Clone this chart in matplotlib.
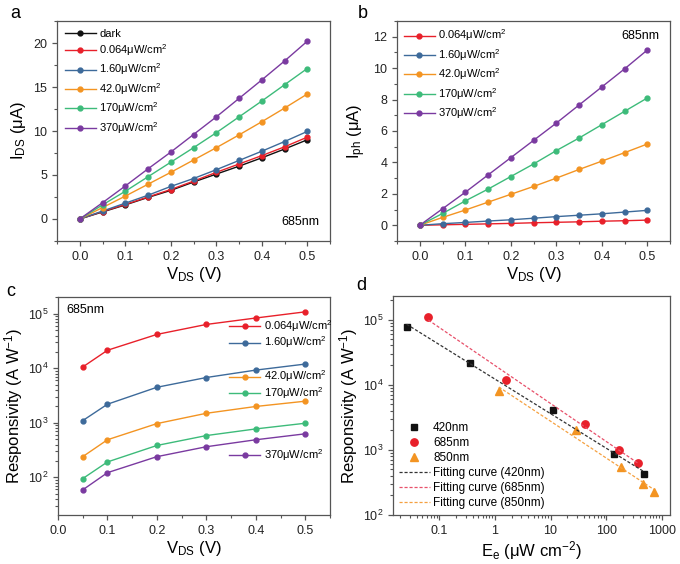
import numpy as np
import matplotlib
matplotlib.use("Agg")
import matplotlib.pyplot as plt
from matplotlib.legend import Legend
from matplotlib.ticker import MultipleLocator, LogLocator, NullFormatter, FixedLocator, FixedFormatter

plt.rcParams['font.family'] = ['Liberation Sans', 'DejaVu Sans']
plt.rcParams['mathtext.fontset'] = 'custom'
plt.rcParams['mathtext.rm'] = 'Liberation Sans'
plt.rcParams['mathtext.it'] = 'Liberation Sans'
plt.rcParams['mathtext.bf'] = 'Liberation Sans:bold'

# ---------------- data ----------------
vds = [0.0, 0.05, 0.10, 0.15, 0.20, 0.25, 0.30, 0.35, 0.40, 0.45, 0.50]
labels_a = ["dark", "0.064μW/cm$^2$", "1.60μW/cm$^2$", "42.0μW/cm$^2$",
            "170μW/cm$^2$", "370μW/cm$^2$"]
ids_dark = [0, 0.80, 1.60, 2.45, 3.25, 4.20, 5.10, 6.00, 6.95, 7.95, 9.00]
ids_0064 = [0, 0.85, 1.65, 2.50, 3.35, 4.30, 5.30, 6.25, 7.20, 8.20, 9.30]
ids_160 = [0, 0.90, 1.80, 2.70, 3.70, 4.60, 5.60, 6.65, 7.70, 8.80, 9.95]
ids_420 = [0, 1.30, 2.60, 3.95, 5.30, 6.70, 8.10, 9.55, 11.05, 12.60, 14.20]
ids_170 = [0, 1.60, 3.15, 4.80, 6.45, 8.10, 9.80, 11.60, 13.40, 15.25, 17.10]
ids_370 = [0, 1.85, 3.75, 5.70, 7.60, 9.60, 11.60, 13.70, 15.80, 17.95, 20.20]

labels_b = labels_a[1:]
iph_0064 = [0, 0.03, 0.06, 0.09, 0.12, 0.16, 0.19, 0.22, 0.26, 0.29, 0.33]
iph_160 = [0, 0.10, 0.18, 0.27, 0.35, 0.45, 0.55, 0.64, 0.73, 0.84, 0.95]
iph_420 = [0, 0.50, 0.97, 1.47, 1.97, 2.47, 3.00, 3.55, 4.08, 4.62, 5.17]
iph_170 = [0, 0.75, 1.55, 2.30, 3.10, 3.90, 4.75, 5.55, 6.40, 7.25, 8.10]
iph_370 = [0, 1.05, 2.10, 3.20, 4.30, 5.40, 6.50, 7.65, 8.80, 9.95, 11.15]

vds_c = [0.05, 0.1, 0.2, 0.3, 0.4, 0.5]
r_0064 = [1.06e4, 2.15e4, 4.2e4, 6.4e4, 8.4e4, 1.09e5]
r_160 = [1.1e3, 2.2e3, 4.5e3, 6.8e3, 9.3e3, 1.2e4]
r_420 = [240, 490, 970, 1500, 2000, 2500]
r_170 = [95, 192, 385, 585, 775, 985]
r_370 = [59, 122, 240, 365, 490, 630]

ee_420 = [0.026, 0.36, 10.9, 140, 476]
resp_420 = [7.8e4, 2.15e4, 4.1e3, 870, 420]
ee_685 = [0.064, 1.60, 42.0, 170, 370]
resp_685 = [1.1e5, 1.2e4, 2.5e3, 980, 630]
ee_850 = [1.18, 29.0, 187, 452, 724]
resp_850 = [8.0e3, 2.0e3, 540, 295, 225]

# ---------------- style ----------------
C_BLACK = "#111111"
C_RED = "#e8202a"
C_BLUE = "#3d6a9a"
C_ORANGE = "#f39422"
C_GREEN = "#3dbb7a"
C_PURPLE = "#7a3aa0"
SPINE = "#555555"

TICK_FS = 9
LAB_FS = 12
LEG_FS = 8

fig = plt.figure(figsize=(6.8, 5.64), dpi=100)

def style_axes(ax):
    for s in ax.spines.values():
        s.set_color(SPINE)
        s.set_linewidth(0.9)
    ax.tick_params(which='both', direction='out', colors=SPINE, labelcolor='#222222',
                   labelsize=TICK_FS, top=False, right=False)
    ax.tick_params(which='major', length=3.5, width=0.9)
    ax.tick_params(which='minor', length=2, width=0.8)

ax_a = fig.add_axes([57/680, 1-241/564, 273/680, 220/564])
ax_b = fig.add_axes([397/680, 1-241/564, 273/680, 220/564])
ax_c = fig.add_axes([58/680, 1-515/564, 272/680, 218/564])
ax_d = fig.add_axes([393/680, 1-515/564, 277/680, 219/564])

# ---- panel a ----
series_a = [ids_dark, ids_0064, ids_160, ids_420, ids_170, ids_370]
cols_a = [C_BLACK, C_RED, C_BLUE, C_ORANGE, C_GREEN, C_PURPLE]
for y, c, l in zip(series_a, cols_a, labels_a):
    ax_a.plot(vds, y, '-o', color=c, lw=1.0, ms=3.5, label=l)
ax_a.set_xlim(-0.05, 0.55)
ax_a.set_ylim(-2.5, 22.5)
ax_a.xaxis.set_major_locator(MultipleLocator(0.1))
ax_a.xaxis.set_minor_locator(MultipleLocator(0.05))
ax_a.yaxis.set_major_locator(MultipleLocator(5))
ax_a.yaxis.set_minor_locator(MultipleLocator(2.5))
ax_a.set_xlabel("V$_{\\mathregular{DS}}$ (V)", fontsize=LAB_FS, labelpad=2)
ax_a.set_ylabel("I$_{\\mathregular{DS}}$ (μA)", fontsize=LAB_FS, labelpad=4)
style_axes(ax_a)
ax_a.legend(loc='upper left', frameon=False, fontsize=LEG_FS, handlelength=2.8,
            handletextpad=0.3, labelspacing=0.32, borderaxespad=0.3, borderpad=0.4)
ax_a.text(0.96, 0.06, "685nm", transform=ax_a.transAxes, ha='right', va='bottom',
          fontsize=9)
fig.text(10/680, 1-18/564, "a", fontsize=13, ha='left', va='baseline')

# ---- panel b ----
series_b = [iph_0064, iph_160, iph_420, iph_170, iph_370]
cols_b = [C_RED, C_BLUE, C_ORANGE, C_GREEN, C_PURPLE]
for y, c, l in zip(series_b, cols_b, labels_b):
    ax_b.plot(vds, y, '-o', color=c, lw=1.0, ms=3.5, label=l)
ax_b.set_xlim(-0.05, 0.55)
ax_b.set_ylim(-1, 13)
ax_b.xaxis.set_major_locator(MultipleLocator(0.1))
ax_b.xaxis.set_minor_locator(MultipleLocator(0.05))
ax_b.yaxis.set_major_locator(MultipleLocator(2))
ax_b.yaxis.set_minor_locator(MultipleLocator(1))
ax_b.set_xlabel("V$_{\\mathregular{DS}}$ (V)", fontsize=LAB_FS, labelpad=2)
ax_b.set_ylabel("I$_{\\mathregular{ph}}$ (μA)", fontsize=LAB_FS, labelpad=4)
style_axes(ax_b)
ax_b.legend(loc='upper left', frameon=False, fontsize=LEG_FS, handlelength=2.8,
            handletextpad=0.3, labelspacing=0.32, borderaxespad=0.3, borderpad=0.3)
ax_b.text(0.96, 0.96, "685nm", transform=ax_b.transAxes, ha='right', va='top',
          fontsize=9)
fig.text(358/680, 1-18/564, "b", fontsize=13, ha='left', va='baseline')

# ---- panel c ----
series_c = [r_0064, r_160, r_420, r_170, r_370]
handles_c = []
for y, c, l in zip(series_c, cols_b, labels_b):
    h, = ax_c.plot(vds_c, y, '-o', color=c, lw=1.0, ms=3.5, label=l)
    handles_c.append(h)
ax_c.set_yscale('log')
ax_c.set_xlim(0, 0.55)
ax_c.set_ylim(20.4, 2.04e5)
ax_c.xaxis.set_major_locator(MultipleLocator(0.1))
ax_c.xaxis.set_minor_locator(MultipleLocator(0.05))
ax_c.yaxis.set_major_locator(LogLocator(base=10, numticks=10))
ax_c.yaxis.set_minor_locator(LogLocator(base=10, subs=np.arange(2, 10), numticks=20))
ax_c.yaxis.set_minor_formatter(NullFormatter())
ax_c.set_xlabel("V$_{\\mathregular{DS}}$ (V)", fontsize=LAB_FS, labelpad=2)
ax_c.set_ylabel("Responsivity (A W$^{\\mathregular{-1}}$)", fontsize=LAB_FS, labelpad=2)
style_axes(ax_c)
leg_y = [0.865, 0.791, 0.635, 0.559, 0.275]
for h, lab, yy in zip(handles_c, labels_b, leg_y):
    lg = Legend(ax_c, [h], [lab], loc='center left', bbox_to_anchor=(0.63, yy),
                frameon=False, fontsize=LEG_FS, handlelength=2.8, handletextpad=0.3,
                borderpad=0, borderaxespad=0)
    ax_c.add_artist(lg)
ax_c.text(0.03, 0.97, "685nm", transform=ax_c.transAxes, ha='left', va='top',
          fontsize=9)
fig.text(6/680, 1-296/564, "c", fontsize=13, ha='left', va='baseline')

# ---- panel d ----
h1, = ax_d.plot(ee_420, resp_420, 's', color=C_BLACK, ms=4.8, ls='none', label='420nm')
h2, = ax_d.plot(ee_685, resp_685, 'o', color=C_RED, ms=5.3, ls='none', label='685nm')
h3, = ax_d.plot(ee_850, resp_850, '^', color=C_ORANGE, ms=5.3, ls='none', label='850nm')
fit_cols = ["#333333", "#e8506a", "#f5a040"]
fit_handles = []
for xs, ys, fc, nm in zip([ee_420, ee_685, ee_850], [resp_420, resp_685, resp_850],
                          fit_cols, ["420nm", "685nm", "850nm"]):
    lx, ly = np.log10(xs), np.log10(ys)
    p = np.polyfit(lx, ly, 1)
    xx = np.linspace(lx.min(), lx.max(), 50)
    h, = ax_d.plot(10**xx, 10**np.polyval(p, xx), ls=(0, (2.5, 1.5)), color=fc, lw=0.9,
                   label=f"Fitting curve ({nm})")
    fit_handles.append(h)
ax_d.set_xscale('log')
ax_d.set_yscale('log')
ax_d.set_xlim(0.0148, 1400)
ax_d.set_ylim(100, 2.3e5)
ax_d.xaxis.set_major_locator(FixedLocator([0.1, 1, 10, 100, 1000]))
ax_d.xaxis.set_major_formatter(FixedFormatter(["0.1", "1", "10", "100", "1000"]))
ax_d.xaxis.set_minor_locator(LogLocator(base=10, subs=np.arange(2, 10), numticks=20))
ax_d.xaxis.set_minor_formatter(NullFormatter())
ax_d.yaxis.set_major_locator(LogLocator(base=10, numticks=10))
ax_d.yaxis.set_minor_locator(LogLocator(base=10, subs=np.arange(2, 10), numticks=20))
ax_d.yaxis.set_minor_formatter(NullFormatter())
ax_d.set_xlabel("E$_{\\mathregular{e}}$ (μW cm$^{\\mathregular{-2}}$)", fontsize=LAB_FS, labelpad=2)
ax_d.set_ylabel("Responsivity (A W$^{\\mathregular{-1}}$)", fontsize=LAB_FS, labelpad=2)
style_axes(ax_d)
ax_d.legend(handles=[h1, h2, h3] + fit_handles, loc='lower left', frameon=False,
            fontsize=8.5, handlelength=2.6, handletextpad=0.3, labelspacing=0.25,
            borderaxespad=0.3, borderpad=0.2)
fig.text(356/680, 1-290/564, "d", fontsize=13, ha='left', va='baseline')

fig.savefig("out.png", dpi=100)
